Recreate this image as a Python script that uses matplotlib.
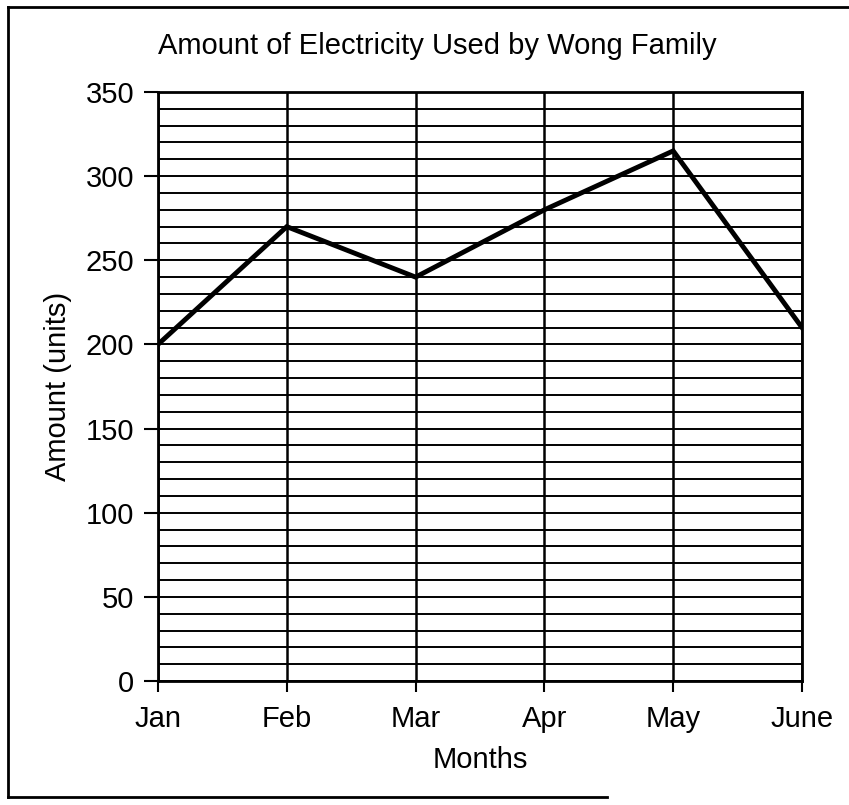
import numpy as np
import matplotlib.pyplot as plt
from matplotlib.lines import Line2D

months = ['Jan', 'Feb', 'Mar', 'Apr', 'May', 'June']
amount = [200, 270, 240, 280, 315, 210]
y_major = [0, 50, 100, 150, 200, 250, 300, 350]

plt.rcParams['font.family'] = ['Liberation Sans', 'DejaVu Sans']

W, H = 849, 805
fig = plt.figure(figsize=(W / 100, H / 100), dpi=100)
ax = fig.add_axes([158 / W, 1 - 681 / H, (802 - 158) / W, (681 - 92) / H])

x = np.arange(len(months))
ax.plot(x, amount, color='black', lw=3.5, zorder=5, solid_joinstyle='miter')

ax.set_xlim(0, len(months) - 1)
ax.set_ylim(0, 350)
ax.set_yticks(y_major)
ax.set_yticks(np.arange(0, 351, 10), minor=True)
ax.set_xticks(x)
ax.set_xticklabels(months)

ax.grid(True, which='both', axis='y', color='black', lw=1.4)
ax.grid(True, which='major', axis='x', color='black', lw=1.8)
ax.tick_params(axis='y', which='major', length=10, width=1.5, labelsize=21, pad=7, direction='out')
ax.tick_params(axis='y', which='minor', length=0)
ax.tick_params(axis='x', length=8, width=1.5, labelsize=21, pad=9, direction='out')
for s in ax.spines.values():
    s.set_color('black')
    s.set_linewidth(2)

ax.set_ylabel('Amount (units)', fontsize=21, labelpad=10)
ax.set_xlabel('Months', fontsize=21, labelpad=10)
fig.text(437 / W, 1 - 46 / H, 'Amount of Electricity Used by Wong Family',
         fontsize=21, ha='center', va='center')

# scanned outer frame (right side and part of the bottom missing)
fx = 8 / W
fig.add_artist(Line2D([fx, fx], [1 - 7 / H, 1 - 797 / H], color='black', lw=2))
fig.add_artist(Line2D([fx, 1], [1 - 7 / H, 1 - 7 / H], color='black', lw=2))
fig.add_artist(Line2D([fx, 607 / W], [1 - 797 / H, 1 - 797 / H], color='black', lw=2))

fig.savefig('out.png', dpi=100)
